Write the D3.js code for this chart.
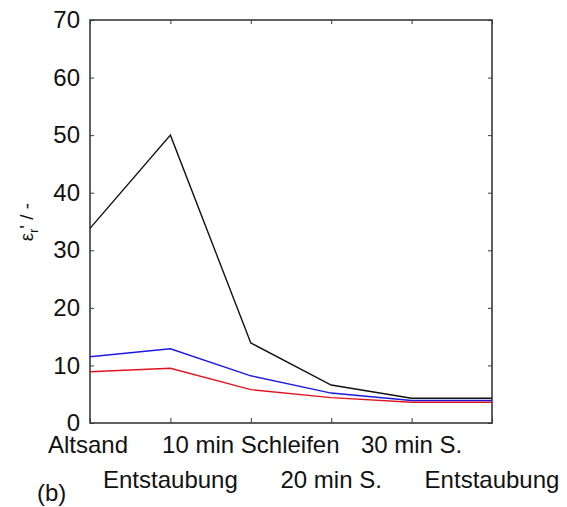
<!DOCTYPE html>
<html>
<head>
<meta charset="utf-8">
<script src="https://cdn.jsdelivr.net/npm/d3@7"></script>
<style>
  body { margin: 0; background: #fff; }
  text { font-family: "Liberation Sans", Arial, sans-serif; fill: #111; }
</style>
</head>
<body>
<div id="chart"></div>
<script>
// categories (two staggered label rows, as in the original)
const categories = ['Altsand', 'Entstaubung', '10 min Schleifen', '20 min S.', '30 min S.', 'Entstaubung'];
const blackSeries = [33.8, 50.0, 13.9, 6.6, 4.3, 4.3];
const blueSeries = [11.5, 12.9, 8.2, 5.2, 3.9, 3.9];
const redSeries = [8.9, 9.5, 5.8, 4.4, 3.6, 3.6];
const yTicks = [0, 10, 20, 30, 40, 50, 60, 70];

const width = 567, height = 507;
const margin = {top: 20, right: 75, bottom: 84, left: 90};
const w = width - margin.left - margin.right;
const h = height - margin.top - margin.bottom;

const svg = d3.select('#chart').append('svg')
    .attr('width', width)
    .attr('height', height);

const g = svg.append('g')
    .attr('transform', `translate(${margin.left},${margin.top})`);

const x = d3.scalePoint()
    .domain(d3.range(categories.length))
    .range([0, w]);

const y = d3.scaleLinear()
    .domain([0, 70])
    .range([h, 0]);

const frameColor = '#3a3a3a';

// left axis with labels, ticks inward
const yAxis = g.append('g')
    .call(d3.axisLeft(y).tickValues(yTicks).tickSize(-4).tickPadding(10));
yAxis.select('.domain').remove();
yAxis.selectAll('line').attr('stroke', frameColor);
yAxis.selectAll('text').style('font-size', '24px').attr('fill', '#111');

// right axis ticks
const yRight = g.append('g')
    .attr('transform', `translate(${w},0)`)
    .call(d3.axisRight(y).tickValues(yTicks).tickSize(-4).tickFormat(''));
yRight.select('.domain').remove();
yRight.selectAll('line').attr('stroke', frameColor);

// bottom ticks
const xAxis = g.append('g')
    .attr('transform', `translate(0,${h})`)
    .call(d3.axisBottom(x).tickSize(-5).tickFormat(''));
xAxis.select('.domain').remove();
xAxis.selectAll('line').attr('stroke', frameColor);

// top ticks
const xTop = g.append('g')
    .call(d3.axisTop(x).tickSize(-4).tickFormat(''));
xTop.select('.domain').remove();
xTop.selectAll('line').attr('stroke', frameColor);

// frame
g.append('rect')
    .attr('x', 0).attr('y', 0)
    .attr('width', w).attr('height', h)
    .attr('fill', 'none')
    .attr('stroke', frameColor)
    .attr('stroke-width', 1.6);

// category labels, staggered
g.selectAll('.cat')
    .data(categories)
    .join('text')
    .attr('class', 'cat')
    .attr('x', (d, i) => x(i) - (i === 0 ? 2 : 0))
    .attr('y', (d, i) => h + (i % 2 === 0 ? 30 : 65))
    .attr('text-anchor', 'middle')
    .style('font-size', '24px')
    .text(d => d);

const line = d3.line()
    .x((d, i) => x(i))
    .y(d => y(d));

const series = [
    {values: blackSeries, color: '#111111'},
    {values: blueSeries, color: '#1a1adf'},
    {values: redSeries, color: '#e0141e'}
];

g.selectAll('.series')
    .data(series)
    .join('path')
    .attr('class', 'series')
    .attr('d', d => line(d.values))
    .attr('fill', 'none')
    .attr('stroke', d => d.color)
    .attr('stroke-width', 1.4);

// y label
const yLabel = svg.append('text')
    .attr('transform', 'translate(33,222) rotate(-90)')
    .attr('text-anchor', 'middle')
    .style('font-size', '19px');
yLabel.append('tspan').text('ε');
yLabel.append('tspan').attr('dy', 5).style('font-size', '12px').text('r');
yLabel.append('tspan').attr('dy', -5).text("' / -");

// panel label
svg.append('text')
    .attr('x', 37)
    .attr('y', 501)
    .style('font-size', '24px')
    .text('(b)');
</script>
</body>
</html>
